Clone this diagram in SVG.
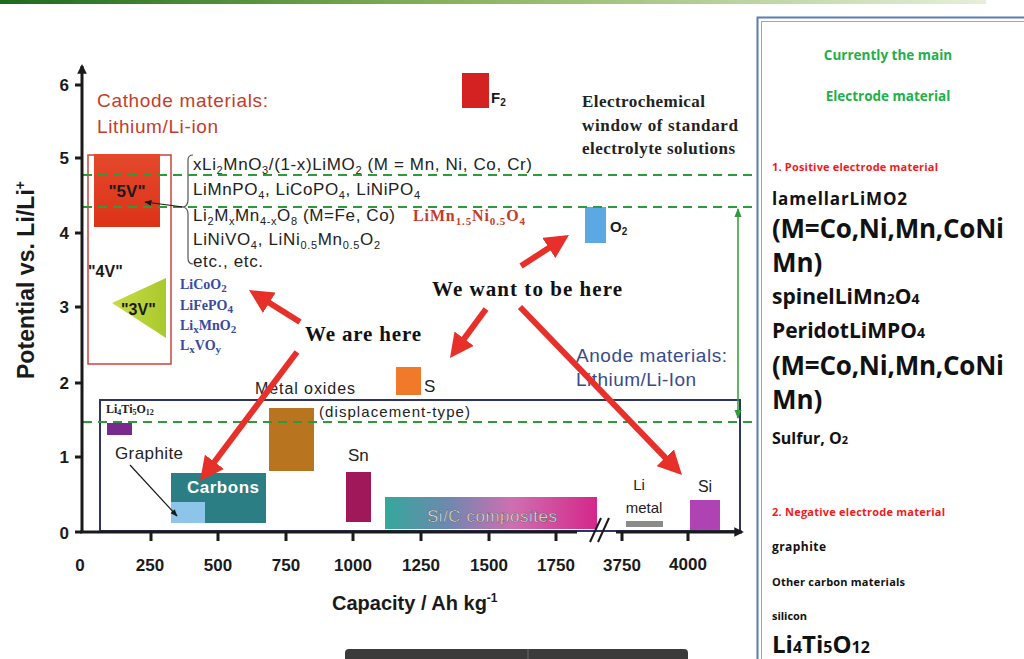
<svg xmlns="http://www.w3.org/2000/svg" width="1024" height="659" viewBox="0 0 1024 659">
<defs>
<linearGradient id="topbar" x1="0" x2="1" y1="0" y2="0"><stop offset="0" stop-color="#1d6a1d"/><stop offset="0.45" stop-color="#86b25a"/><stop offset="1" stop-color="#e6efd9"/></linearGradient>
<linearGradient id="sic" x1="0" x2="1" y1="0" y2="0"><stop offset="0" stop-color="#35a89b"/><stop offset="0.3" stop-color="#6e88b0"/><stop offset="0.6" stop-color="#cf6fb0"/><stop offset="1" stop-color="#d4278a"/></linearGradient>
<linearGradient id="five" x1="0" x2="0" y1="0" y2="1"><stop offset="0" stop-color="#e4492c"/><stop offset="1" stop-color="#dc3218"/></linearGradient>
<linearGradient id="tri" x1="0" x2="1" y1="0" y2="0"><stop offset="0" stop-color="#c9dc4a"/><stop offset="1" stop-color="#a9c92c"/></linearGradient>
<marker id="redHead" viewBox="0 0 10 10" refX="4" refY="5" markerWidth="4" markerHeight="4" orient="auto"><path d="M0,0 L10,5 L0,10 z" fill="#e8302a"/></marker>
<marker id="greenHead" viewBox="0 0 10 10" refX="9" refY="5" markerWidth="6" markerHeight="6" orient="auto-start-reverse"><path d="M0,1 L10,5 L0,9 z" fill="#2f9a3a"/></marker>
<marker id="axisHead" viewBox="0 0 10 10" refX="8" refY="5" markerWidth="3.2" markerHeight="3.2" orient="auto"><path d="M0,0 L10,5 L0,10 z" fill="#1a1a1a"/></marker>
<marker id="blackHead" viewBox="0 0 10 10" refX="9" refY="5" markerWidth="6" markerHeight="6" orient="auto"><path d="M0,1 L10,5 L0,9 z" fill="#1a1a1a"/></marker>
<style>
.ax{font-family:"Liberation Sans",Arial,sans-serif;font-weight:bold;fill:#1a1a1a}
.tl{text-anchor:middle}
.sans{font-family:"Liberation Sans",Arial,sans-serif;fill:#222}
.ser{font-family:"Liberation Serif","Times New Roman",serif;font-weight:bold}
.f{font-size:17px}
.sb{font-size:11px}
.blue{fill:#3a4aa2;font-size:14px}
.red{fill:#c43c2c}
.arrow{stroke:#e8302a;stroke-width:6;fill:none;marker-end:url(#redHead)}
.dash{stroke:#2f9a3a;stroke-width:2;stroke-dasharray:9 6;fill:none}
.tick{stroke:#1a1a1a;stroke-width:3}
.rp{font-family:"Open Sans","Noto Sans",sans-serif;font-weight:bold;fill:#111}
.grn{fill:#1fb04a;font-size:13.5px;text-anchor:middle}
.rh{fill:#f01c1c;font-size:11px}
</style>
</defs>
<rect width="1024" height="659" fill="#ffffff"/>
<rect x="0" y="0" width="986" height="4" fill="url(#topbar)"/>

<!-- right panel -->
<g id="panel">
<rect x="757.5" y="17.5" width="300" height="700" fill="none" stroke="#5b7db4" stroke-width="2"/>
<rect x="761.5" y="21.5" width="300" height="700" fill="none" stroke="#8ea8d2" stroke-width="1"/>
<text class="rp grn" x="888" y="60">Currently the main</text>
<text class="rp grn" x="888" y="101">Electrode material</text>
<text class="rp rh" x="772" y="171" textLength="166">1. Positive electrode material</text>
<text class="rp" x="772" y="205" font-size="17" textLength="135">lamellarLiMO2</text>
<text class="rp" x="772" y="238" font-size="26" textLength="232">(M=Co,Ni,Mn,CoNi</text>
<text class="rp" x="772" y="272" font-size="26">Mn)</text>
<text class="rp" x="772" y="304" font-size="21">spinelLiMn<tspan font-size="14">2</tspan>O<tspan font-size="14">4</tspan></text>
<text class="rp" x="772" y="338" font-size="21">PeridotLiMPO<tspan font-size="14">4</tspan></text>
<text class="rp" x="772" y="375" font-size="26" textLength="232">(M=Co,Ni,Mn,CoNi</text>
<text class="rp" x="772" y="409" font-size="26">Mn)</text>
<text class="rp" x="772" y="444" font-size="16">Sulfur, O<tspan font-size="11">2</tspan></text>
<text class="rp rh" x="772" y="516" textLength="173">2. Negative electrode material</text>
<text class="rp" x="772" y="551" font-size="12" textLength="54">graphite</text>
<text class="rp" x="772" y="586" font-size="11" textLength="133">Other carbon materials</text>
<text class="rp" x="772" y="620" font-size="11" textLength="35">silicon</text>
<text class="rp" x="772" y="653" font-size="24">Li<tspan font-size="16">4</tspan>Ti<tspan font-size="16">5</tspan>O<tspan font-size="16">12</tspan></text>
</g>

<g id="bottombar">
<path d="M345,659 L345,653 Q345,649 349,649 L684,649 Q688,649 688,653 L688,659 z" fill="#3b3b3b"/>
<line x1="528" y1="649" x2="528" y2="659" stroke="#6a6a6a" stroke-width="1"/>
</g>

<!-- chart regions -->
<g id="cathode">
<text class="sans red" x="97" y="107" font-size="19" textLength="171">Cathode materials:</text>
<text class="sans red" x="97" y="133" font-size="19" textLength="121">Lithium/Li-ion</text>
<rect x="88" y="155" width="83" height="209" fill="none" stroke="#c9443a" stroke-width="1.5"/>
</g>
<g id="v5">
<rect x="94" y="154" width="66" height="73" fill="url(#five)"/>
<text class="ax tl" x="127" y="197" font-size="17">"5V"</text>
</g>
<g id="v4"><text class="ax" x="88" y="277" font-size="16">"4V"</text></g>
<g id="v3">
<polygon points="112,303 166,278 166,338" fill="url(#tri)"/>
<text class="ax" x="121" y="315" font-size="16">"3V"</text>
</g>
<g id="formulas" class="sans f">
<path d="M193,155 Q188,155 188,160 L188,200 Q188,206 183,207 Q188,208 188,214 L188,258 Q188,264 193,264" fill="none" stroke="#555" stroke-width="1.2"/>
<text x="193" y="170" textLength="339">xLi<tspan class="sb" dy="4">2</tspan><tspan dy="-4">MnO</tspan><tspan class="sb" dy="4">3</tspan><tspan dy="-4">/(1-x)LiMO</tspan><tspan class="sb" dy="4">2</tspan><tspan dy="-4"> (M = Mn, Ni, Co, Cr)</tspan></text>
<text x="193" y="195" textLength="227">LiMnPO<tspan class="sb" dy="4">4</tspan><tspan dy="-4">, LiCoPO</tspan><tspan class="sb" dy="4">4</tspan><tspan dy="-4">, LiNiPO</tspan><tspan class="sb" dy="4">4</tspan></text>
<text x="193" y="221" textLength="202">Li<tspan class="sb" dy="4">2</tspan><tspan dy="-4">M</tspan><tspan class="sb" dy="4">x</tspan><tspan dy="-4">Mn</tspan><tspan class="sb" dy="4">4-x</tspan><tspan dy="-4">O</tspan><tspan class="sb" dy="4">8</tspan><tspan dy="-4"> (M=Fe, Co)</tspan></text>
<text x="193" y="245" textLength="187">LiNiVO<tspan class="sb" dy="4">4</tspan><tspan dy="-4">, LiNi</tspan><tspan class="sb" dy="4">0.5</tspan><tspan dy="-4">Mn</tspan><tspan class="sb" dy="4">0.5</tspan><tspan dy="-4">O</tspan><tspan class="sb" dy="4">2</tspan></text>
<text x="193" y="267" textLength="70">etc., etc.</text>
</g>
<g id="lmno"><text class="ser red" x="413" y="221" font-size="16" textLength="112">LiMn<tspan class="sb" dy="4">1.5</tspan><tspan dy="-4">Ni</tspan><tspan class="sb" dy="4">0.5</tspan><tspan dy="-4">O</tspan><tspan class="sb" dy="4">4</tspan></text></g>
<g id="current" class="ser blue">
<text x="180" y="289">LiCoO<tspan class="sb" dy="3">2</tspan></text>
<text x="180" y="310">LiFePO<tspan class="sb" dy="3">4</tspan></text>
<text x="180" y="330">Li<tspan class="sb" dy="3">x</tspan><tspan dy="-3">MnO</tspan><tspan class="sb" dy="3">2</tspan></text>
<text x="180" y="350">L<tspan class="sb" dy="3">x</tspan><tspan dy="-3">VO</tspan><tspan class="sb" dy="3">y</tspan></text>
</g>
<g id="f2">
<rect x="462" y="73" width="27" height="35" fill="#d42222"/>
<text class="ax" x="491" y="103" font-size="15">F<tspan font-size="10" dy="3">2</tspan></text>
</g>
<g id="window" class="ser" font-size="17" fill="#222">
<text x="582" y="107" textLength="123">Electrochemical</text>
<text x="582" y="131" textLength="156">window of standard</text>
<text x="582" y="154" textLength="153">electrolyte solutions</text>
</g>
<g id="o2">
<rect x="585" y="207" width="21" height="36" fill="#5ca8e2"/>
<text class="ax" x="610" y="232" font-size="15">O<tspan font-size="10" dy="3">2</tspan></text>
</g>
<g id="s">
<rect x="396" y="367" width="25" height="28" fill="#f07a2a"/>
<text class="sans" x="424" y="392" font-size="17">S</text>
</g>
<g id="anode">
<rect x="100" y="400" width="640" height="131" fill="none" stroke="#2c3566" stroke-width="2"/>
<text class="sans" x="576" y="362" font-size="19" style="fill:#3b4a8a" textLength="151">Anode materials:</text>
<text class="sans" x="576" y="386" font-size="19" style="fill:#3b4a8a" textLength="120">Lithium/Li-Ion</text>
</g>
<g id="lto">
<text class="ser" x="106" y="413" font-size="12" fill="#222">Li<tspan font-size="8" dy="2">4</tspan><tspan dy="-2">Ti</tspan><tspan font-size="8" dy="2">5</tspan><tspan dy="-2">O</tspan><tspan font-size="8" dy="2">12</tspan></text>
<rect x="107" y="423" width="25" height="12" fill="#7a2a8e"/>
</g>
<g id="graphite">
<text class="sans" x="115" y="459" font-size="17" textLength="68">Graphite</text>
</g>
<g id="carbons">
<rect x="171" y="473" width="95" height="50" fill="#2a7e84"/>
<rect x="171" y="502" width="34" height="21" fill="#8cc4ea"/>
<text class="sans" x="187" y="493" font-size="17" font-weight="bold" style="fill:#ffffff" textLength="72">Carbons</text>
</g>
<g id="metaloxides">
<text class="sans" x="255" y="394" font-size="16" textLength="100">Metal oxides</text>
<text class="sans" x="319" y="417" font-size="15" textLength="151">(displacement-type)</text>
<rect x="269" y="408" width="45" height="63" fill="#b8741f"/>
</g>
<g id="sn">
<text class="sans" x="348" y="461" font-size="17">Sn</text>
<rect x="346" y="472" width="25" height="50" fill="#a0175a"/>
</g>
<g id="sic-comp">
<rect x="385" y="497" width="212" height="32" fill="url(#sic)"/>
<text class="sans" x="427" y="522" font-size="17" style="fill:#f2f2f2" stroke="#555" stroke-width="0.5" textLength="130">Si/C composites</text>
</g>
<g id="limetal">
<text class="sans tl" x="639" y="490" font-size="15">Li</text>
<text class="sans tl" x="644" y="513" font-size="15">metal</text>
<rect x="626" y="521" width="37" height="6" fill="#8a8a8a"/>
</g>
<g id="si">
<text class="sans tl" x="705" y="492" font-size="16">Si</text>
<rect x="690" y="500" width="30" height="30" fill="#b043b4"/>
</g>

<!-- dashed electrolyte limits -->
<g id="limits">
<line class="dash" x1="83" y1="175" x2="752" y2="175"/>
<line class="dash" x1="83" y1="207" x2="752" y2="207"/>
<line class="dash" x1="83" y1="422" x2="752" y2="422"/>
</g>

<!-- axes -->
<g id="axes">
<line x1="82" y1="533" x2="82" y2="66" stroke="#1a1a1a" stroke-width="3" marker-end="url(#axisHead)"/>
<line x1="80" y1="532" x2="577" y2="532" stroke="#1a1a1a" stroke-width="3"/>
<line x1="616" y1="532" x2="742" y2="532" stroke="#1a1a1a" stroke-width="3" marker-end="url(#axisHead)"/>
<line x1="590" y1="542" x2="601" y2="518" stroke="#1a1a1a" stroke-width="2"/>
<line x1="598" y1="542" x2="609" y2="518" stroke="#1a1a1a" stroke-width="2"/>
<path class="tick" d="M75,85H82M75,158H82M75,233H82M75,307H82M75,383H82M75,457H82M75,532H82"/>
<path class="tick" d="M151,532V541M218,532V541M286,532V541M353,532V541M421,532V541M489,532V541M556,532V541M622,532V541M688,532V541"/>
<g class="ax" text-anchor="end" font-size="17">
<text x="69" y="91">6</text><text x="69" y="164">5</text><text x="69" y="239">4</text><text x="69" y="313">3</text><text x="69" y="389">2</text><text x="69" y="463">1</text><text x="69" y="539">0</text>
</g>
<g class="ax tl" font-size="17">
<text x="80" y="571">0</text><text x="150" y="571">250</text><text x="218" y="571">500</text><text x="286" y="571">750</text><text x="353" y="571">1000</text><text x="421" y="571">1250</text><text x="489" y="571">1500</text><text x="556" y="571">1750</text><text x="622" y="571">3750</text><text x="688" y="570">4000</text>
</g>
<text class="ax" x="332" y="610" font-size="20">Capacity / Ah kg<tspan font-size="12" dy="-8">-1</tspan></text>
<text class="ax" transform="translate(34,280) rotate(-90)" text-anchor="middle" font-size="23" textLength="198">Potential vs. Li/Li<tspan font-size="14" dy="-9">+</tspan></text>
</g>

<!-- callout labels -->
<g id="weare"><text class="ser" x="305" y="341" font-size="21" fill="#111" textLength="116">We are here</text></g>
<g id="wewant"><text class="ser" x="432" y="296" font-size="21" fill="#111" textLength="190">We want to be here</text></g>

<!-- connectors -->
<g id="connectors">
<line class="arrow" x1="300" y1="322" x2="261.2" y2="297.7"/>
<line class="arrow" x1="297" y1="352" x2="208.7" y2="469.5"/>
<line class="arrow" x1="521" y1="266" x2="556.9" y2="242.8"/>
<line class="arrow" x1="486" y1="309" x2="458.5" y2="346.4"/>
<line class="arrow" x1="520" y1="307" x2="672" y2="464.6"/>
<line x1="738" y1="209" x2="738" y2="418" stroke="#2f9a3a" stroke-width="1.5" marker-start="url(#greenHead)" marker-end="url(#greenHead)"/>
<line x1="130" y1="465" x2="177" y2="516" stroke="#1a1a1a" stroke-width="1.2" marker-end="url(#blackHead)"/>
<line x1="183" y1="207" x2="145" y2="202" stroke="#1a1a1a" stroke-width="1.2" marker-end="url(#blackHead)"/>
</g>
</svg>
